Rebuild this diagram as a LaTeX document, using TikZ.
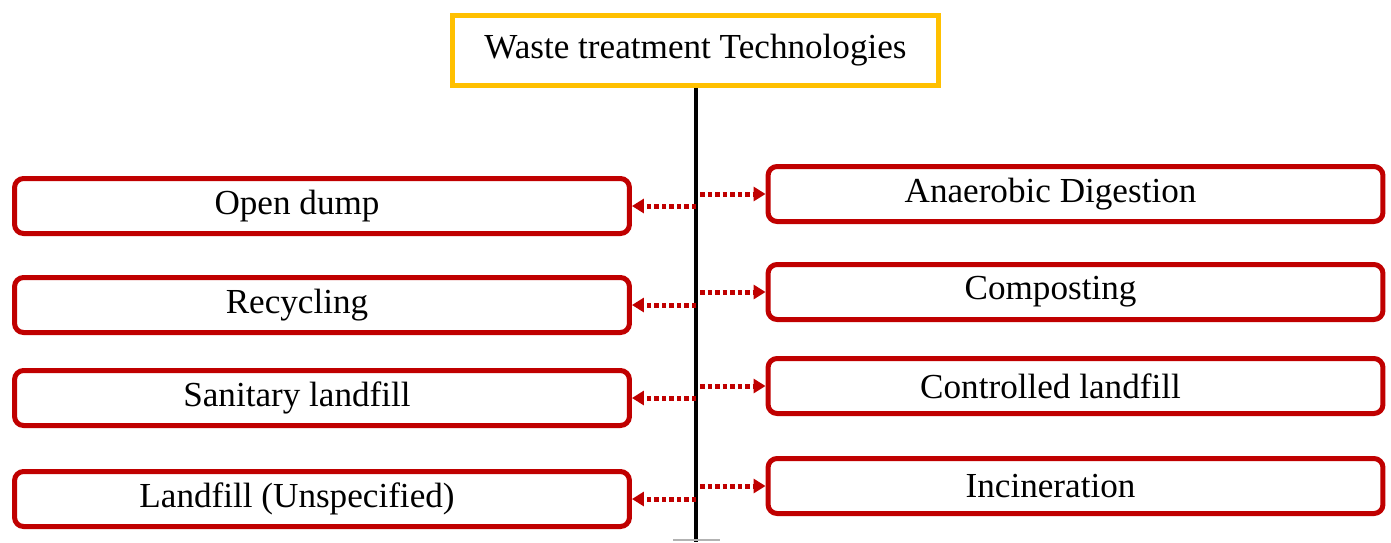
\documentclass[tikz,border=0pt]{standalone}
\usepackage{fontspec}
\setmainfont{Liberation Serif}
\usepackage{xcolor}
\usetikzlibrary{arrows.meta,positioning,calc}
\definecolor{boxred}{HTML}{C00000}
\definecolor{boxgold}{HTML}{FFC000}

\begin{document}
\begin{tikzpicture}[x=0.02cm,y=-0.02cm,
        techbox/.style={draw=boxred,line width=0.1cm,rounded corners=0.18cm,
            minimum width=12.3cm,minimum height=1.1cm,inner sep=0pt,
            font=\fontsize{20}{24}\selectfont,execute at end node={\hspace*{1cm}}},
        titlebox/.style={draw=boxgold,line width=0.1cm,minimum width=9.72cm,
            minimum height=1.4cm,inner sep=0pt,font=\fontsize{20}{24}\selectfont},
        dotarrow/.style={draw=boxred,line width=0.1cm,dash pattern=on 0.09cm off 0.06cm,
            -{Triangle[length=0.24cm,width=0.28cm]}}]
        \useasboundingbox (0,0) rectangle (1391,542);
        \node[titlebox] (title) at (695.5,50.5) {Waste treatment Technologies};
        % left column
        \node[techbox] (opendump) at (322,206) {Open dump};
        \node[techbox] (recycling) at (322,305) {Recycling};
        \node[techbox] (sanitary) at (322,398) {Sanitary landfill};
        \node[techbox] (unspec) at (322,499) {Landfill (Unspecified)};
        % right column
        \node[techbox] (anaerobic) at (1075.5,194) {Anaerobic Digestion};
        \node[techbox] (composting) at (1075.5,292) {Composting};
        \node[techbox] (controlled) at (1075.5,386) {Controlled landfill};
        \node[techbox] (incineration) at (1075.5,486) {Incineration};
        % spine
        \coordinate (spine) at (696,542);
        \draw[line width=0.09cm] (title.south -| spine) -- (spine);
        \draw[gray!60,line width=0.04cm] ($(spine)+(-23,-2)$) -- ($(spine)+(24,-2)$);
        \foreach \n in {opendump,recycling,sanitary,unspec}
            \draw[dotarrow] (\n.east -| spine) -- (\n.east);
        \foreach \n in {anaerobic,composting,controlled,incineration}
            \draw[dotarrow] ($(\n.west -| spine)+(4,0)$) -- (\n.west);
    \end{tikzpicture}
\end{document}
